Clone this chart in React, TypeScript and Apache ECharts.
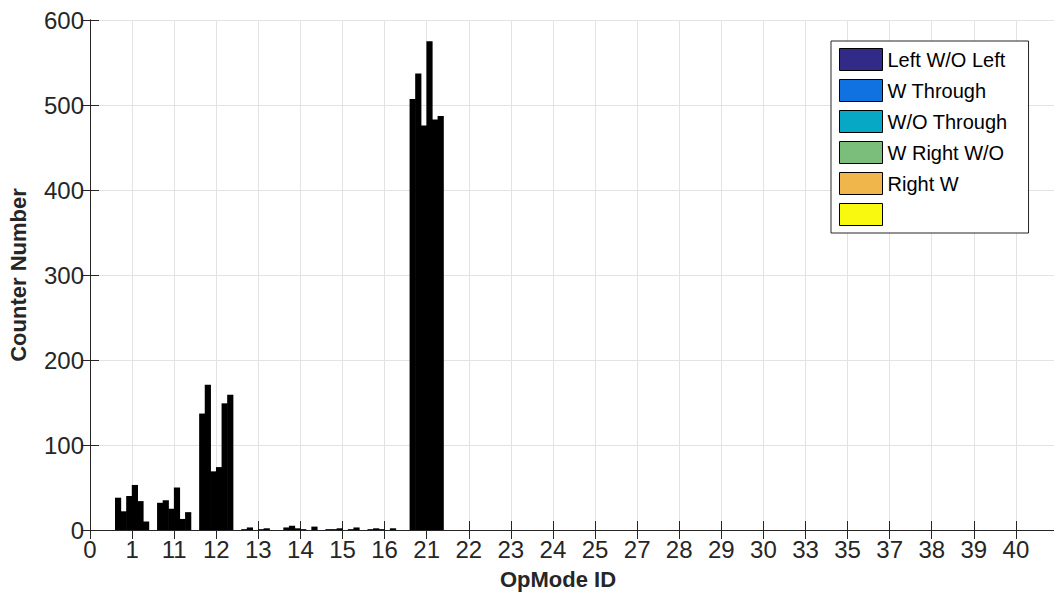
import React, { useEffect, useRef } from "react";
import * as echarts from "echarts";

const categories = ["0", "1", "11", "12", "13", "14", "15", "16", "21", "22", "23", "24", "25", "27", "28", "29", "30", "33", "35", "37", "38", "39", "40"];
const seriesNames = ["Left W/O Left", "W Through", "W/O Through", "W Right W/O", "Right W", " "];
const legendColors = ["#312a87", "#0f72e0", "#06a8c6", "#7bbd7a", "#f0b64c", "#f9f90f"];

// values per series for categories "1" .. "40" (22 groups)
const leftWOLeft = [38, 32, 137, 1, 3, 1, 1, 507, 0, 0, 0, 0, 0, 0, 0, 0, 0, 0, 0, 0, 0, 0];
const wThrough = [22, 35, 171, 3, 5, 1, 2, 537, 0, 0, 0, 0, 0, 0, 0, 0, 0, 0, 0, 0, 0, 0];
const woThrough = [40, 25, 69, 0, 2, 2, 1, 476, 0, 0, 0, 0, 0, 0, 0, 0, 0, 0, 0, 0, 0, 0];
const wRightWO = [53, 50, 74, 1, 1, 0, 0, 575, 0, 0, 0, 0, 0, 0, 0, 0, 0, 0, 0, 0, 0, 0];
const rightW = [34, 13, 149, 2, 0, 1, 2, 483, 0, 0, 0, 0, 0, 0, 0, 0, 0, 0, 0, 0, 0, 0];
const sixth = [10, 21, 159, 0, 4, 3, 0, 487, 0, 0, 0, 0, 0, 0, 0, 0, 0, 0, 0, 0, 0, 0];
const seriesValues = [leftWOLeft, wThrough, woThrough, wRightWO, rightW, sixth];

const yTicks = [0, 100, 200, 300, 400, 500, 600];

const FONT = "'Liberation Sans', Arial, Helvetica, sans-serif";
const AX = "#262626";

export default function App() {
  const ref = useRef<HTMLDivElement>(null);
  useEffect(() => {
    if (!ref.current) return;
    const chart = echarts.init(ref.current, null, { renderer: "svg" });
    const xMax = categories.length;
    const baseX = {
      type: "value" as const,
      min: 0,
      max: xMax,
      interval: 1,
    };
    const baseY = {
      type: "value" as const,
      min: yTicks[0],
      max: yTicks[yTicks.length - 1],
      interval: 100,
    };
    chart.setOption({
      animation: false,
      backgroundColor: "#ffffff",
      grid: { left: 90, top: 20, width: 968, bottom: 67, containLabel: false, outerBoundsMode: "none" },
      legend: {
        orient: "vertical",
        left: 831,
        top: 41,
        icon: "rect",
        itemWidth: 43,
        itemHeight: 22,
        itemGap: 8,
        padding: [7, 21, 7, 8],
        backgroundColor: "#ffffff",
        borderColor: AX,
        borderWidth: 1,
        borderRadius: 0,
        textStyle: { fontFamily: FONT, fontSize: 20, lineHeight: 22, color: "#000" },
        data: seriesNames.map((n, i) => ({
          name: n,
          itemStyle: { color: legendColors[i], borderColor: "#000", borderWidth: 1 },
        })),
      },
      xAxis: [
        {
          ...baseX,
          position: "bottom",
          name: "OpMode ID",
          nameLocation: "middle",
          nameGap: 38,
          nameTextStyle: { fontFamily: FONT, fontSize: 22, fontWeight: "bold", color: AX, padding: [0, 32, 0, 0] },
          axisLine: { show: true, lineStyle: { color: AX, width: 1 } },
          axisTick: { show: true, inside: true, length: 9, lineStyle: { color: AX } },
          axisLabel: {
            fontFamily: FONT,
            fontSize: 24,
            color: AX,
            margin: 7,
            formatter: (v: number) => (categories[v] !== undefined ? categories[v] : ""),
          },
          splitLine: { show: true, lineStyle: { color: "#e3e3e3", width: 1 } },
        },
        {
          ...baseX,
          position: "top",
          axisLine: { show: true, lineStyle: { color: AX, width: 1 } },
          axisTick: { show: true, inside: true, length: 9, lineStyle: { color: AX } },
          axisLabel: { show: false },
          splitLine: { show: false },
        },
      ],
      yAxis: [
        {
          ...baseY,
          position: "left",
          name: "Counter Number",
          nameLocation: "middle",
          nameGap: 61,
          nameTextStyle: { fontFamily: FONT, fontSize: 22, fontWeight: "bold", color: AX },
          axisLine: { show: true, lineStyle: { color: AX, width: 1 } },
          axisTick: { show: true, inside: true, length: 9, lineStyle: { color: AX } },
          axisLabel: { fontFamily: FONT, fontSize: 24, color: AX, margin: 6 },
          splitLine: { show: true, lineStyle: { color: "#e3e3e3", width: 1 } },
        },
        {
          ...baseY,
          position: "right",
          axisLine: { show: true, lineStyle: { color: AX, width: 1 } },
          axisTick: { show: true, inside: true, length: 9, lineStyle: { color: AX } },
          axisLabel: { show: false },
          splitLine: { show: false },
        },
      ],
      series: seriesNames.map((n, si) => ({
        name: n,
        type: "bar",
        xAxisIndex: 0,
        yAxisIndex: 0,
        barWidth: 6.2,
        barGap: "-9.6%",
        itemStyle: { color: "#000000" },
        emphasis: { disabled: true },
        data: seriesValues[si].map((v, i) => [i + 1, v === 0 ? "-" : v]),
      })),
    });
    return () => chart.dispose();
  }, []);
  return (
    <div style={{ position: "fixed", left: 0, top: 0, width: 1054, height: 597, overflow: "hidden", background: "#fff" }}>
      <div ref={ref} style={{ width: 1070, height: 597 }} />
    </div>
  );
}
